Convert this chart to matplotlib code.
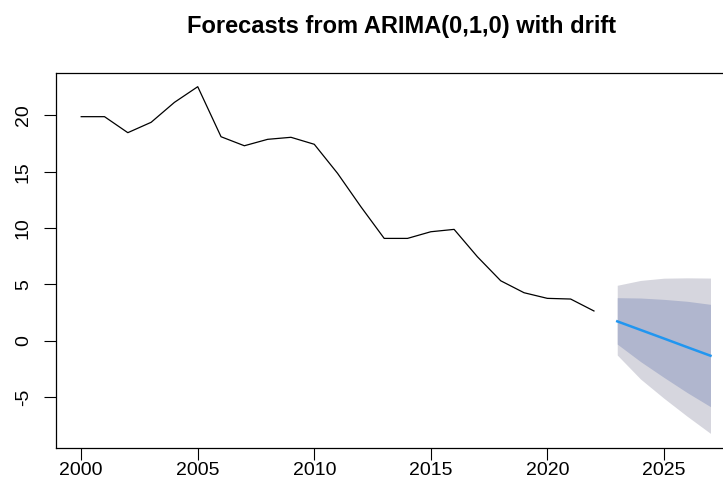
import numpy as np
import matplotlib
matplotlib.use("Agg")
import matplotlib.pyplot as plt

plt.rcParams['font.family'] = ['Liberation Sans', 'DejaVu Sans']

# observed series, 2000-2022
years = list(range(2000, 2023))
values = [19.88, 19.88, 18.46, 19.38, 21.15, 22.54, 18.10, 17.30, 17.87, 18.05,
          17.43, 14.85, 11.89, 9.08, 9.08, 9.67, 9.88, 7.45, 5.32, 4.26,
          3.76, 3.70, 2.64]

# forecast, 2023-2027
fc_years = [2023, 2024, 2025, 2026, 2027]
fc_mean = [1.72, 0.96, 0.20, -0.57, -1.33]
lo80 = [-0.30, -1.85, -3.25, -4.60, -5.85]
hi80 = [3.82, 3.79, 3.67, 3.50, 3.23]
lo95 = [-1.27, -3.40, -5.10, -6.70, -8.22]
hi95 = [4.92, 5.35, 5.55, 5.58, 5.56]

xticks = [2000, 2005, 2010, 2015, 2020, 2025]
yticks = [-5, 0, 5, 10, 15, 20]

fig = plt.figure(figsize=(7.23, 4.93), dpi=100)
# plot region runs past the right edge, as in the cropped original
ax = fig.add_axes([0.0775, 0.0919, 0.940, 0.7606])

ax.fill_between(fc_years, lo95, hi95, color='#D6D6DE', linewidth=0)
ax.fill_between(fc_years, lo80, hi80, color='#B0B6CE', linewidth=0)
ax.plot(years, values, color='black', linewidth=0.9)
ax.plot(fc_years, fc_mean, color='#2196F0', linewidth=1.8)

ax.set_xlim(1998.92, 2028.08)
ax.set_ylim(-9.49, 23.78)
ax.set_xticks(xticks)
ax.set_yticks(yticks)
ax.set_yticklabels([str(v) for v in yticks], rotation=90, va='center')

ax.tick_params(axis='both', direction='out', length=8.4, width=0.8,
               labelsize=14, color='black')
ax.tick_params(axis='x', pad=2)
ax.tick_params(axis='y', pad=9)
for s in ax.spines.values():
    s.set_linewidth(0.9)
    s.set_color('black')

fig.text(0.556, 0.947, 'Forecasts from ARIMA(0,1,0) with drift',
         ha='center', va='center', fontsize=17, fontweight='bold')

plt.savefig('out.png', dpi=100, facecolor='white')
